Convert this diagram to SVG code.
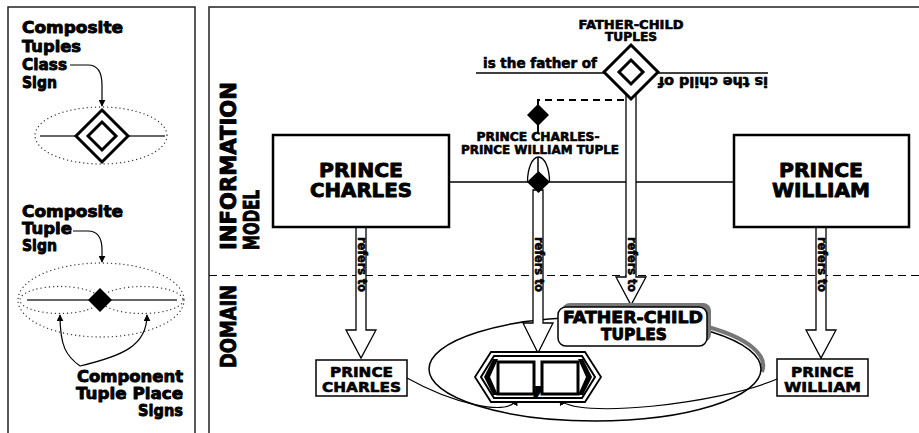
<svg xmlns="http://www.w3.org/2000/svg" width="919" height="433" viewBox="0 0 919 433">
<defs>
<style>
.t{font-family:"DejaVu Sans","Liberation Sans",sans-serif;font-weight:bold;fill:#000;stroke:#000;stroke-width:0.6;stroke-linejoin:round}
.h{stroke-width:0.9}
.frame{fill:none;stroke:#222;stroke-width:1.5}
.dot{fill:none;stroke:#333;stroke-width:1.3;stroke-dasharray:0.1 4;stroke-linecap:round}
.thin{fill:none;stroke:#000;stroke-width:1.2}
.gray{fill:none;stroke:#666;stroke-width:2}
.box{fill:#fff;stroke:#000;stroke-width:2.5}
.sbox{fill:#fff;stroke:#000;stroke-width:1.5}
.arrow{fill:#fff;stroke:#000;stroke-width:1.3}
.dia{fill:#fff;stroke:#000;stroke-width:3}
.dash{fill:none;stroke:#000;stroke-width:2;stroke-dasharray:7 5}
</style>
<marker id="ah" viewBox="0 0 10 10" refX="9" refY="5" markerWidth="7" markerHeight="7" orient="auto" markerUnits="userSpaceOnUse">
<path d="M0,0 L10,5 L0,10 z" fill="#000"/>
</marker>
</defs>
<rect width="919" height="433" fill="#fff"/>

<!-- frames -->
<rect class="frame" x="8" y="7" width="187" height="440"/>
<rect class="frame" x="209" y="7" width="720" height="440"/>

<!-- legend -->
<g id="legend-class">
<text class="t h" font-size="16.5" x="22" y="33" textLength="101" lengthAdjust="spacingAndGlyphs">Composite</text>
<text class="t h" font-size="16.5" x="22" y="52" textLength="59" lengthAdjust="spacingAndGlyphs">Tuples</text>
<text class="t h" font-size="16.5" x="22" y="70" textLength="45" lengthAdjust="spacingAndGlyphs">Class</text>
<text class="t h" font-size="16.5" x="22" y="88" textLength="35" lengthAdjust="spacingAndGlyphs">Sign</text>
<path class="thin" d="M70,65 L88,65 C98,65 102,72 102,85 L102,106" marker-end="url(#ah)"/>
<ellipse class="dot" cx="101" cy="135.5" rx="66" ry="28.5"/>
<line class="gray" x1="40" y1="136" x2="165" y2="136"/>
<path class="dia" d="M102,110 L128,136 L102,162 L76,136 Z"/>
<path class="dia" d="M102,122 L116,136 L102,150 L88,136 Z"/>
</g>

<g id="legend-tuple">
<text class="t h" font-size="16.5" x="22" y="217" textLength="101" lengthAdjust="spacingAndGlyphs">Composite</text>
<text class="t h" font-size="16.5" x="22" y="234" textLength="50" lengthAdjust="spacingAndGlyphs">Tuple</text>
<text class="t h" font-size="16.5" x="22" y="251" textLength="35" lengthAdjust="spacingAndGlyphs">Sign</text>
<path class="thin" d="M73,231 L88,231 C98,231 102,238 102,250 L102,262" marker-end="url(#ah)"/>
<ellipse class="dot" cx="101" cy="300" rx="83" ry="37"/>
<ellipse class="dot" cx="60" cy="300" rx="40" ry="13.5"/>
<ellipse class="dot" cx="142" cy="300" rx="41" ry="13.5"/>
<line class="gray" x1="27" y1="300" x2="177" y2="300"/>
<path d="M100,288 L112,300 L100,312 L88,300 Z" fill="#000"/>
</g>

<g id="legend-place">
<path class="thin" d="M80,366 C66,356 60,346 60,315" marker-end="url(#ah)"/>
<path class="thin" d="M80,366 C122,356 147,346 147,315" marker-end="url(#ah)"/>
<text class="t h" font-size="16.5" x="183" y="382" text-anchor="end" textLength="106" lengthAdjust="spacingAndGlyphs">Component</text>
<text class="t h" font-size="16.5" x="183" y="399" text-anchor="end" textLength="107" lengthAdjust="spacingAndGlyphs">Tuple Place</text>
<text class="t h" font-size="16.5" x="183" y="416" text-anchor="end" textLength="45" lengthAdjust="spacingAndGlyphs">Signs</text>
</g>

<!-- section labels -->
<g id="section-labels">
<text class="t h" font-size="21" transform="translate(236,250) rotate(-90)" textLength="168" lengthAdjust="spacingAndGlyphs">INFORMATION</text>
<text class="t h" font-size="21" transform="translate(259,250) rotate(-90)" textLength="60" lengthAdjust="spacingAndGlyphs">MODEL</text>
<text class="t h" font-size="21" transform="translate(236,368) rotate(-90)" textLength="83" lengthAdjust="spacingAndGlyphs">DOMAIN</text>
</g>

<!-- connectors -->
<g id="connectors">
<line x1="209" y1="275.5" x2="919" y2="275.5" stroke="#000" stroke-width="1" stroke-dasharray="8 5"/>
<line x1="449" y1="182" x2="734" y2="182" stroke="#000" stroke-width="1.3"/>
<line x1="476" y1="73" x2="768" y2="73" stroke="#000" stroke-width="1.3"/>
<path class="dash" d="M538,105 L538,100 L626,100"/>
<line x1="538" y1="125" x2="538" y2="133" stroke="#000" stroke-width="2"/>
<line x1="538" y1="157" x2="538" y2="172" stroke="#000" stroke-width="1.5"/>
<path d="M527.5,182 A11,25 0 0 1 549.5,182" fill="none" stroke="#000" stroke-width="1.3"/>

<!-- big ellipse with shadow -->
<path d="M708,327 A166,52 0 0 1 762,372" fill="none" stroke="#777" stroke-width="4"/>
<ellipse cx="595" cy="369" rx="166" ry="52" fill="none" stroke="#000" stroke-width="1.5"/>

<!-- refers-to arrows -->
<path class="arrow" d="M356,227 L366,227 L366,330 L376,330 L361,358 L346,330 L356,330 Z"/>
<path class="arrow" d="M533,190 L543,190 L543,323 L553,323 L538,353 L523,323 L533,323 Z"/>
<path class="arrow" d="M626,94 L636,94 L636,277 L646,277 L631,305 L616,277 L626,277 Z"/>
<path class="arrow" d="M816,227 L826,227 L826,330 L836,330 L821,358 L806,330 L816,330 Z"/>
<text class="t" font-size="11.5" transform="translate(357.5,237) rotate(90)" textLength="55" lengthAdjust="spacingAndGlyphs">refers to</text>
<text class="t" font-size="11.5" transform="translate(534.5,237) rotate(90)" textLength="55" lengthAdjust="spacingAndGlyphs">refers to</text>
<text class="t" font-size="11.5" transform="translate(627.5,237) rotate(90)" textLength="55" lengthAdjust="spacingAndGlyphs">refers to</text>
<text class="t" font-size="11.5" transform="translate(817.5,237) rotate(90)" textLength="55" lengthAdjust="spacingAndGlyphs">refers to</text>

<!-- curves from domain boxes into tuple places -->
<path class="thin" d="M407,378 C450,402 508,418 517,399" marker-end="url(#ah)"/>
<path class="thin" d="M777,379 C720,404 572,420 560,399" marker-end="url(#ah)"/>
</g>

<!-- info model nodes -->
<g id="im-charles">
<rect class="box" x="273" y="135" width="176" height="92"/>
<text class="t h" font-size="19.5" x="361" y="177" text-anchor="middle" textLength="84" lengthAdjust="spacingAndGlyphs">PRINCE</text>
<text class="t h" font-size="19.5" x="361" y="197" text-anchor="middle" textLength="102" lengthAdjust="spacingAndGlyphs">CHARLES</text>
</g>
<g id="im-william">
<rect class="box" x="734" y="135" width="175" height="92"/>
<text class="t h" font-size="19.5" x="821" y="177" text-anchor="middle" textLength="84" lengthAdjust="spacingAndGlyphs">PRINCE</text>
<text class="t h" font-size="19.5" x="821" y="197" text-anchor="middle" textLength="98" lengthAdjust="spacingAndGlyphs">WILLIAM</text>
</g>
<g id="im-tuple">
<path d="M538.5,171 L550,182 L538.5,193 L527,182 Z" fill="#000"/>
<path d="M538,104 L549,115 L538,126 L527,115 Z" fill="#000"/>
<text class="t" font-size="12" x="538" y="141" text-anchor="middle" textLength="123" lengthAdjust="spacingAndGlyphs">PRINCE CHARLES-</text>
<text class="t" font-size="12" x="540" y="154" text-anchor="middle" textLength="158" lengthAdjust="spacingAndGlyphs">PRINCE WILLIAM TUPLE</text>
</g>
<g id="im-father-child">
<path class="dia" d="M631,45 L658,72 L631,99 L604,72 Z"/>
<path class="dia" d="M631,60 L643,72 L631,84 L619,72 Z"/>
<text class="t" font-size="12" x="631" y="29" text-anchor="middle" textLength="105" lengthAdjust="spacingAndGlyphs">FATHER-CHILD</text>
<text class="t" font-size="12" x="631" y="41" text-anchor="middle" textLength="52" lengthAdjust="spacingAndGlyphs">TUPLES</text>
<text class="t" font-size="13.5" x="597" y="68" text-anchor="end" textLength="114" lengthAdjust="spacingAndGlyphs">is the father of</text>
<text class="t" font-size="13.5" transform="translate(768,77) rotate(180)" textLength="110" lengthAdjust="spacingAndGlyphs">is the child of</text>
</g>

<!-- domain nodes -->
<g id="dm-charles">
<rect class="sbox" x="316" y="360" width="91" height="36"/>
<text class="t" font-size="14.5" x="361.5" y="377" text-anchor="middle" textLength="63" lengthAdjust="spacingAndGlyphs">PRINCE</text>
<text class="t" font-size="14.5" x="361.5" y="392" text-anchor="middle" textLength="79" lengthAdjust="spacingAndGlyphs">CHARLES</text>
</g>
<g id="dm-william">
<rect class="sbox" x="777" y="359" width="91" height="37"/>
<text class="t" font-size="14.5" x="822.5" y="377" text-anchor="middle" textLength="63" lengthAdjust="spacingAndGlyphs">PRINCE</text>
<text class="t" font-size="14.5" x="822.5" y="392" text-anchor="middle" textLength="77" lengthAdjust="spacingAndGlyphs">WILLIAM</text>
</g>
<g id="dm-father-child">
<rect x="562" y="303" width="149" height="39" rx="8" fill="#777"/>
<rect x="558" y="307" width="149" height="39" rx="8" fill="#fff" stroke="#000" stroke-width="1.5"/>
<text class="t h" font-size="16.5" x="633" y="323" text-anchor="middle" textLength="140" lengthAdjust="spacingAndGlyphs">FATHER-CHILD</text>
<text class="t h" font-size="16.5" x="634" y="340" text-anchor="middle" textLength="66" lengthAdjust="spacingAndGlyphs">TUPLES</text>
</g>
<g id="dm-tuple">
<path d="M491,352 L585,352 L601,377 L585,402 L491,402 L475,377 Z" fill="#fff" stroke="#000" stroke-width="1.8"/>
<path d="M494,356 L582,356 L595,377 L582,398 L494,398 L481,377 Z" fill="#fff" stroke="#000" stroke-width="2"/>
<path d="M493,359 L484,377 L493,395 L498,395 L490,377 L498,359 Z" fill="#000"/>
<path d="M583,359 L592,377 L583,395 L578,395 L586,377 L578,359 Z" fill="#000"/>
<rect x="498" y="362" width="36" height="32" fill="#fff" stroke="#000" stroke-width="3"/>
<rect x="542" y="362" width="36" height="32" fill="#fff" stroke="#000" stroke-width="3"/>
<text class="t h" font-size="32" x="538" y="392" text-anchor="middle">,</text>
</g>
</svg>
